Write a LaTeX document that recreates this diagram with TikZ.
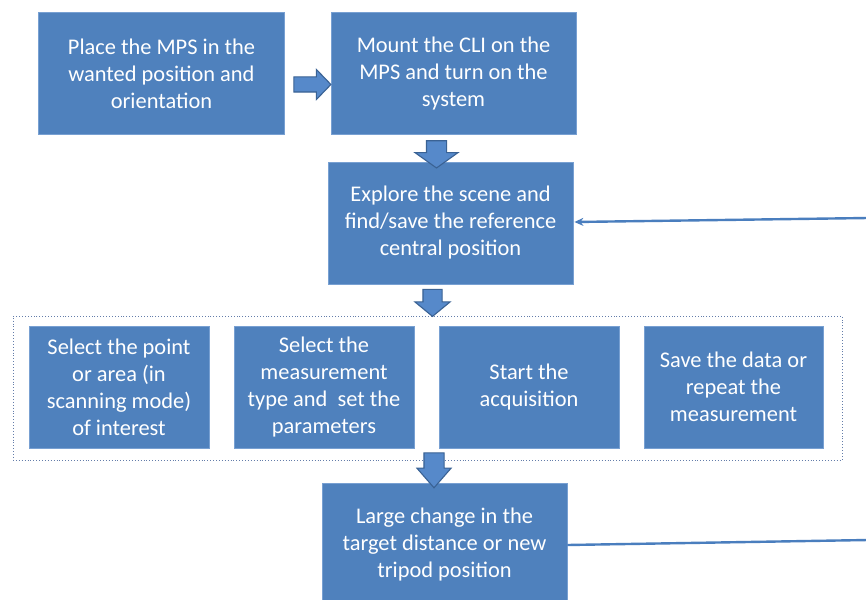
\documentclass[tikz,border=0pt]{standalone}
\usepackage{fontspec}
\setmainfont{Carlito}
\usetikzlibrary{shapes.arrows,arrows.meta,calc}
\definecolor{boxblue}{RGB}{79,129,189}
\definecolor{boxedge}{RGB}{120,160,210}
\definecolor{arrowfill}{RGB}{86,137,202}
\definecolor{arrowedge}{RGB}{58,98,148}
\definecolor{lineblue}{RGB}{74,126,190}
\definecolor{framecol}{RGB}{100,125,170}
\tikzset{
  stepbox/.style={rectangle, fill=boxblue, draw=boxedge, line width=0.8pt, text=white,
    align=center, inner sep=0pt, minimum height=122pt,
    font=\fontsize{22.4}{27}\selectfont},
  barrow/.style={single arrow, fill=arrowfill, draw=arrowedge, line width=1.1pt,
    inner sep=0pt, single arrow head indent=0pt, anchor=center},
  framebox/.style={draw=framecol, dotted, line width=0.9pt},
  link/.style={draw=lineblue, line width=2.4pt}
}
\begin{document}
\begin{tikzpicture}[x=1pt,y=-1pt]
\clip (0,0) rectangle (866,599);
\fill[white] (0,0) rectangle (866,599);
% main boxes
\node[stepbox, minimum width=246pt] (b1) at (161.5,73.5) {Place the MPS in the\\wanted position and\\orientation};
\node[stepbox, minimum width=245pt] (b2) at (453.5,73.5) {Mount the CLI on the\\MPS and turn on the\\system};
\node[stepbox, minimum width=245pt] (b3) at (450.5,223) {Explore the scene and\\find/save the reference\\central position};
% dotted frame
\node[framebox, minimum width=829pt, minimum height=144pt, inner sep=0pt] (frame) at (427.5,388) {};
\node[stepbox, minimum width=180pt] (s1) at (119,387) {Select the point\\or area (in\\scanning mode)\\of interest};
\node[stepbox, minimum width=180pt] (s2) at (324,387) {Select the\\measurement\\type and\ \ set the\\parameters};
\node[stepbox, minimum width=180pt] (s3) at (529,387) {Start the\\acquisition};
\node[stepbox, minimum width=179pt] (s4) at (733.5,387) {Save the data or\\repeat the\\measurement};
\node[stepbox, minimum width=245pt, minimum height=124pt] (b5) at (444.5,545) {Large change in the\\target distance or new\\tripod position};
% block arrows
\node[barrow, minimum height=37pt, inner sep=7pt, single arrow head extend=7.5pt, single arrow tip angle=92] (a1) at ($(b1.east)!0.5!(b2.west)+(1,11)$) {};
\node[barrow, rotate=-90, minimum height=25pt, inner sep=9.5pt, single arrow head extend=11.5pt, single arrow tip angle=109] (a2) at ($(b2.south)!0.5!(b3.north)+(-15.5,2.5)$) {};
\node[barrow, rotate=-90, minimum height=26pt, inner sep=9pt, single arrow head extend=8pt, single arrow tip angle=101] (a3) at ($(b3.south)!0.5!(frame.north)+(-6.5,-1)$) {};
\node[barrow, rotate=-90, minimum height=35pt, inner sep=9.5pt, single arrow head extend=7pt, single arrow tip angle=82] (a4) at ($(frame.south)!0.5!(b5.north)+(-2,-7)$) {};
% feedback lines
\coordinate (r1) at (868,218);
\coordinate (r2) at (868,540);
\draw[link, -{Stealth[length=9pt,width=8pt]}] (r1) -- ($(b3.east)+(1,-1)$);
\draw[link] (b5.east) -- (r2);
\end{tikzpicture}
\end{document}
